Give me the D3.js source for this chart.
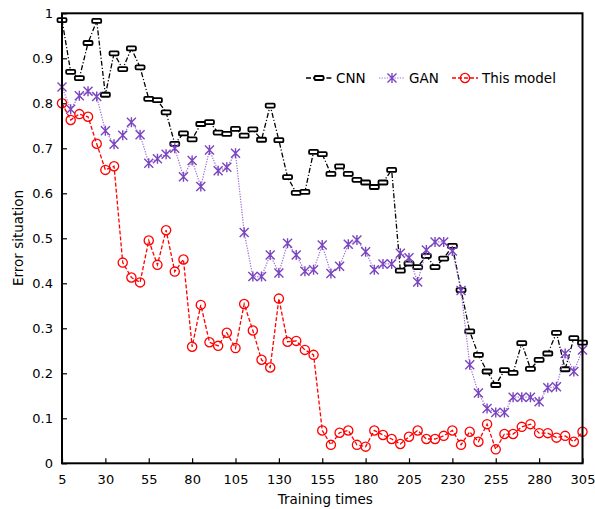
<!DOCTYPE html>
<html>
<head>
<meta charset="utf-8">
<title>Error situation</title>
<style>
  body { margin: 0; background: #fff; }
  .axis text { font-family: "DejaVu Sans", Verdana, sans-serif; font-size: 13px; fill: #000; }
  .axis .domain { display: none; }
  .axis line { stroke: #000; stroke-width: 1.2; }
  .title { font-family: "DejaVu Sans", Verdana, sans-serif; font-size: 13.5px; fill: #000; }
  .legend text { font-family: "DejaVu Sans", Verdana, sans-serif; font-size: 13.5px; fill: #000; }
</style>
<script src="https://cdn.jsdelivr.net/npm/d3@7"></script>
</head>
<body>
<script>
// training times (x)
var trainingTimes = [5,10,15,20,25,30,35,40,45,50,55,60,65,70,75,80,85,90,95,100,
  105,110,115,120,125,130,135,140,145,150,155,160,165,170,175,180,185,190,195,200,
  205,210,215,220,225,230,235,240,245,250,255,260,265,270,275,280,285,290,295,300,305];

var cnnValues = [0.985,0.870,0.856,0.934,0.983,0.819,0.911,0.876,0.922,0.880,
  0.810,0.807,0.780,0.710,0.733,0.720,0.754,0.758,0.735,0.732,
  0.743,0.728,0.742,0.719,0.795,0.718,0.636,0.601,0.603,0.692,
  0.687,0.643,0.660,0.643,0.630,0.624,0.614,0.624,0.652,0.428,
  0.444,0.436,0.461,0.436,0.455,0.483,0.385,0.293,0.241,0.204,
  0.174,0.207,0.201,0.267,0.210,0.230,0.244,0.290,0.209,0.278,0.268];

var ganValues = [0.836,0.787,0.817,0.827,0.815,0.739,0.709,0.729,0.758,0.730,
  0.667,0.677,0.687,0.700,0.637,0.673,0.615,0.696,0.650,0.658,
  0.689,0.513,0.415,0.415,0.463,0.423,0.489,0.463,0.427,0.430,
  0.485,0.422,0.438,0.487,0.496,0.470,0.430,0.443,0.443,0.467,
  0.457,0.403,0.474,0.492,0.492,0.472,0.384,0.219,0.156,0.122,
  0.113,0.113,0.147,0.147,0.147,0.137,0.168,0.170,0.244,0.204,0.252];

var modelValues = [0.800,0.763,0.776,0.770,0.710,0.652,0.660,0.446,0.413,0.402,
  0.495,0.441,0.518,0.426,0.453,0.259,0.352,0.269,0.261,0.290,
  0.256,0.354,0.295,0.230,0.213,0.366,0.270,0.272,0.252,0.241,
  0.073,0.041,0.068,0.073,0.041,0.037,0.073,0.063,0.054,0.043,
  0.059,0.073,0.054,0.054,0.061,0.073,0.041,0.070,0.048,0.087,
  0.031,0.065,0.065,0.081,0.087,0.067,0.067,0.057,0.061,0.048,0.070];

var xTicks = [5,30,55,80,105,130,155,180,205,230,255,280,305];
var yTicks = [0,0.1,0.2,0.3,0.4,0.5,0.6,0.7,0.8,0.9,1];
var yTickLabels = ["0","0.1","0.2","0.3","0.4","0.5","0.6","0.7","0.8","0.9","1"];
var seriesNames = ["CNN","GAN","This model"];

var width = 595, height = 509;
var plot = {left: 62, right: 582.5, top: 13.3, bottom: 463.3};

var svg = d3.select('body').append('svg').attr('width', width).attr('height', height);

var xScale = d3.scaleLinear().domain([5, 305]).range([plot.left, plot.right]);
var yScale = d3.scaleLinear().domain([0, 1]).range([plot.bottom, plot.top]);

// axes, ticks inward
var xAxis = d3.axisBottom(xScale).tickValues(xTicks).tickSizeInner(-5).tickSizeOuter(0).tickPadding(11)
  .tickFormat(function(d){ return d; });
svg.append('g').attr('class', 'axis')
  .attr('transform', 'translate(0,' + plot.bottom + ')')
  .call(xAxis);

var yAxis = d3.axisLeft(yScale).tickValues(yTicks).tickSizeInner(-5).tickSizeOuter(0).tickPadding(9)
  .tickFormat(function(d, i){ return yTickLabels[i]; });
svg.append('g').attr('class', 'axis')
  .attr('transform', 'translate(' + plot.left + ',0)')
  .call(yAxis);

// series
var series = [
  {name: seriesNames[0], values: cnnValues, color: '#000', dash: '5,2,1.2,2', width: 1.3, marker: 'rect'},
  {name: seriesNames[1], values: ganValues, color: '#7a45c0', lineColor: '#9d72d6', dash: '1.3,1.3', width: 1.2, marker: 'star'},
  {name: seriesNames[2], values: modelValues, color: '#ff0000', dash: '4,2', width: 1.3, marker: 'circle'}
];

var line = d3.line()
  .x(function(d){ return xScale(d[0]); })
  .y(function(d){ return yScale(d[1]); });

function drawMarker(g, type, color) {
  if (type == 'rect') {
    g.append('rect').attr('x', -4.5).attr('y', -2).attr('width', 9).attr('height', 4).attr('rx', 1)
      .attr('fill', '#fff').attr('stroke', color).attr('stroke-width', 1.8);
  } else if (type == 'star') {
    g.append('path').attr('d', 'M-4.5,-4.5L4.5,4.5M-4.5,4.5L4.5,-4.5M0,-5L0,5')
      .attr('fill', 'none').attr('stroke', color).attr('stroke-width', 1.4);
  } else {
    g.append('circle').attr('r', 4.6).attr('fill', 'none').attr('stroke', color).attr('stroke-width', 1.3);
  }
}

series.forEach(function(s) {
  var pts = trainingTimes.map(function(t, i){ return [t, s.values[i]]; });
  svg.append('path')
    .attr('d', line(pts))
    .attr('fill', 'none')
    .attr('stroke', s.lineColor || s.color)
    .attr('stroke-width', s.width)
    .attr('stroke-dasharray', s.dash);
  svg.append('g').selectAll('g')
    .data(pts).enter().append('g')
    .attr('transform', function(d){ return 'translate(' + xScale(d[0]) + ',' + yScale(d[1]) + ')'; })
    .each(function(){ drawMarker(d3.select(this), s.marker, s.color); });
});

// frame
svg.append('rect')
  .attr('x', plot.left).attr('y', plot.top)
  .attr('width', plot.right - plot.left).attr('height', plot.bottom - plot.top)
  .attr('fill', 'none').attr('stroke', '#000').attr('stroke-width', 2);

// legend
var legendX = [306, 379, 452];
var legend = svg.append('g').attr('class', 'legend');
series.forEach(function(s, i) {
  var lx = legendX[i];
  legend.append('line').attr('x1', lx).attr('x2', lx + 26).attr('y1', 78).attr('y2', 78)
    .attr('stroke', s.lineColor || s.color).attr('stroke-width', s.width).attr('stroke-dasharray', s.dash);
  drawMarker(legend.append('g').attr('transform', 'translate(' + (lx + 13) + ',78)'), s.marker, s.color);
  legend.append('text').attr('x', lx + 30).attr('y', 83).text(s.name);
});

// axis titles
svg.append('text').attr('class', 'title')
  .attr('x', (plot.left + plot.right) / 2 + 3).attr('y', 504)
  .attr('text-anchor', 'middle').text('Training times');
svg.append('text').attr('class', 'title')
  .attr('transform', 'translate(23,' + 238 + ') rotate(-90)')
  .attr('text-anchor', 'middle').text('Error situation');
</script>
</body>
</html>
